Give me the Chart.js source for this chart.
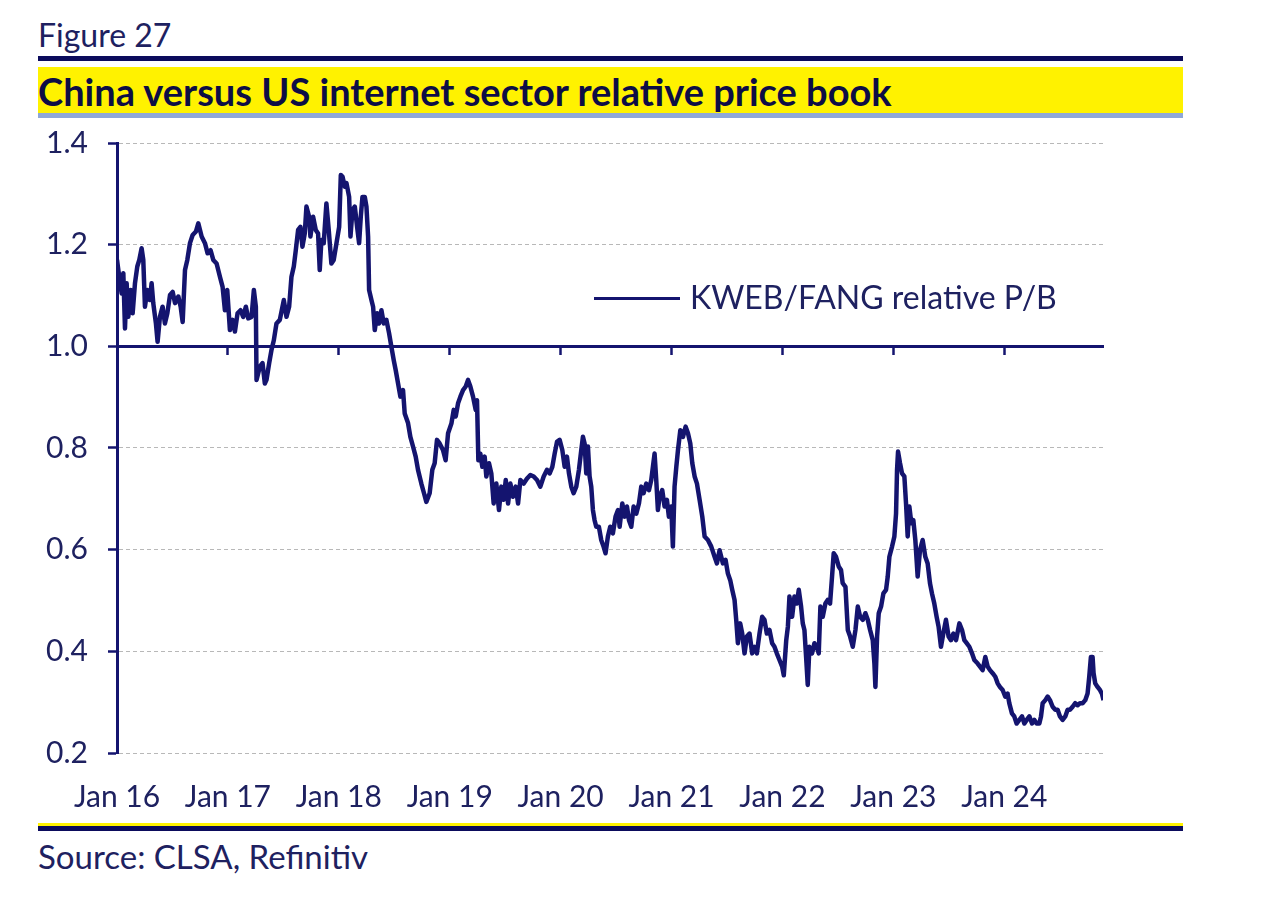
<!DOCTYPE html>
<html>
<head>
<meta charset="utf-8">
<script src="https://cdn.jsdelivr.net/npm/chart.js@4.4.1/dist/chart.umd.min.js"></script>
<style>
  body { margin: 0; background: #fff; width: 1268px; height: 911px; position: relative; overflow: hidden;
         font-family: Lato, "Open Sans", sans-serif; color: #1e2160; }
  .txt { position: absolute; left: 38px; font-size: 32px; line-height: 36px; white-space: nowrap; }
  .bar { position: absolute; left: 38px; width: 1145px; }
  #title { position: absolute; left: 38px; top: 67px; width: 1145px; height: 46px; background: #fff200;
           font-weight: bold; font-size: 38px; line-height: 48px; color: #0d0d45; white-space: nowrap; overflow: hidden; }
  #legend { position: absolute; left: 594px; top: 279px; font-size: 32px; line-height: 36px; white-space: nowrap; }
  #legend span { display: inline-block; width: 86px; height: 3px; background: #14146f; vertical-align: middle; margin-right: 10px; margin-top: -4px; }
  #wrap { position: absolute; left: 0; top: 105px; width: 1268px; height: 715px; }
</style>
</head>
<body>
<div class="txt" style="top:17px">Figure 27</div>
<div class="bar" style="top:56px;height:5px;background:#0b0b5c"></div>
<div id="title">China versus US internet sector relative price book</div>
<div class="bar" style="top:113px;height:5px;background:#8fa8d8"></div>
<div id="wrap"><canvas id="myChart"></canvas></div>
<div id="legend"><span></span>KWEB/FANG relative P/B</div>
<div class="bar" style="top:823px;height:3px;background:#fff200"></div>
<div class="bar" style="top:826px;height:5px;background:#0b0b5c"></div>
<div class="txt" style="top:838px;font-size:33px">Source: CLSA, Refinitiv</div>

<script>
// data (x = decimal year, y = relative P/B)
const dates = [
  2016.000, 2016.012, 2016.042, 2016.057, 2016.072, 2016.087, 2016.102, 2016.123, 2016.141, 2016.162,
  2016.183, 2016.201, 2016.222, 2016.237, 2016.252, 2016.273, 2016.297, 2016.312, 2016.327, 2016.351,
  2016.366, 2016.387, 2016.411, 2016.432, 2016.454, 2016.478, 2016.502, 2016.523, 2016.553, 2016.574,
  2016.592, 2016.613, 2016.634, 2016.658, 2016.682, 2016.712, 2016.733, 2016.763, 2016.793, 2016.817,
  2016.844, 2016.868, 2016.898, 2016.928, 2016.952, 2016.973, 2016.994, 2017.018, 2017.042, 2017.063,
  2017.087, 2017.114, 2017.138, 2017.162, 2017.183, 2017.213, 2017.234, 2017.252, 2017.258, 2017.288,
  2017.312, 2017.333, 2017.348, 2017.372, 2017.393, 2017.414, 2017.438, 2017.468,
  2017.492, 2017.504, 2017.528, 2017.552, 2017.573, 2017.594, 2017.612, 2017.633, 2017.654, 2017.672,
  2017.693, 2017.708, 2017.732, 2017.744, 2017.768, 2017.792, 2017.813, 2017.828, 2017.843, 2017.864,
  2017.888, 2017.909, 2017.933, 2017.954, 2017.979, 2018.003, 2018.018, 2018.033, 2018.054, 2018.069,
  2018.093, 2018.105, 2018.123, 2018.144, 2018.165, 2018.183, 2018.198, 2018.213, 2018.234, 2018.249,
  2018.264, 2018.273, 2018.294, 2018.309, 2018.324, 2018.345, 2018.363, 2018.384, 2018.405, 2018.429,
  2018.453, 2018.474, 2018.495, 2018.513, 2018.534, 2018.555, 2018.579, 2018.594, 2018.624, 2018.645,
  2018.669, 2018.693, 2018.714, 2018.744, 2018.768, 2018.789, 2018.819, 2018.843, 2018.864, 2018.885,
  2018.909, 2018.939, 2018.963, 2018.985,
  2019.015, 2019.036, 2019.054, 2019.075, 2019.096, 2019.120, 2019.144, 2019.165, 2019.186, 2019.210,
  2019.234, 2019.246, 2019.258, 2019.276, 2019.294, 2019.315, 2019.330, 2019.354, 2019.375, 2019.396,
  2019.420, 2019.444, 2019.465, 2019.486, 2019.505, 2019.526, 2019.547, 2019.571, 2019.595, 2019.616,
  2019.637, 2019.667, 2019.697, 2019.727, 2019.757, 2019.787, 2019.817, 2019.847, 2019.877, 2019.901,
  2019.925, 2019.946, 2019.967, 2019.991, 2020.015, 2020.036, 2020.057, 2020.075, 2020.096, 2020.117,
  2020.141, 2020.165, 2020.186, 2020.201, 2020.216, 2020.231, 2020.246, 2020.261, 2020.276, 2020.291,
  2020.306, 2020.321, 2020.345, 2020.366, 2020.387, 2020.405, 2020.426, 2020.447, 2020.471, 2020.495,
  2020.517,
  2020.532, 2020.556, 2020.577, 2020.598, 2020.616, 2020.637, 2020.658, 2020.682, 2020.706, 2020.727,
  2020.748, 2020.772, 2020.796, 2020.817, 2020.832, 2020.847, 2020.862, 2020.877, 2020.892, 2020.916,
  2020.937, 2020.958, 2020.976, 2020.997, 2021.012, 2021.027, 2021.043, 2021.058, 2021.079, 2021.103,
  2021.127, 2021.148, 2021.169, 2021.187, 2021.208, 2021.229, 2021.253, 2021.277, 2021.298, 2021.328,
  2021.358, 2021.388, 2021.409, 2021.433, 2021.463, 2021.487, 2021.508, 2021.529, 2021.547, 2021.568,
  2021.583, 2021.598, 2021.619, 2021.637, 2021.658, 2021.679, 2021.703, 2021.727, 2021.748, 2021.769,
  2021.793, 2021.817, 2021.838, 2021.859, 2021.883, 2021.907, 2021.928, 2021.949, 2021.973, 2021.997,
  2022.012, 2022.034, 2022.049,
  2022.063, 2022.087, 2022.108, 2022.129, 2022.147, 2022.168, 2022.183, 2022.198, 2022.213, 2022.228,
  2022.243, 2022.267, 2022.288, 2022.309, 2022.327, 2022.342, 2022.363, 2022.387, 2022.408, 2022.429,
  2022.447, 2022.462, 2022.483, 2022.507, 2022.528, 2022.543, 2022.568, 2022.589, 2022.610, 2022.634,
  2022.658, 2022.679, 2022.700, 2022.724, 2022.748, 2022.769, 2022.790, 2022.814, 2022.829, 2022.838,
  2022.853, 2022.868, 2022.889, 2022.910, 2022.934, 2022.949, 2022.964, 2022.988, 2023.009, 2023.024,
  2023.033, 2023.042, 2023.060, 2023.078, 2023.099, 2023.114, 2023.129, 2023.144, 2023.162, 2023.180,
  2023.198, 2023.219, 2023.240, 2023.264, 2023.288, 2023.309, 2023.330, 2023.348, 2023.369, 2023.390,
  2023.408, 2023.429, 2023.450, 2023.474, 2023.498, 2023.519, 2023.541, 2023.565,
  2023.595, 2023.619, 2023.640, 2023.661, 2023.685, 2023.709, 2023.730, 2023.760, 2023.781, 2023.805,
  2023.829, 2023.850, 2023.871, 2023.895, 2023.919, 2023.940, 2023.961, 2023.985, 2024.009, 2024.030,
  2024.045, 2024.069, 2024.090, 2024.111, 2024.136, 2024.160, 2024.181, 2024.202, 2024.226, 2024.250,
  2024.271, 2024.292, 2024.316, 2024.331, 2024.346, 2024.370, 2024.391, 2024.412, 2024.436, 2024.460,
  2024.481, 2024.502, 2024.526, 2024.550, 2024.571, 2024.592, 2024.616, 2024.640, 2024.661, 2024.682,
  2024.706, 2024.730, 2024.751, 2024.766, 2024.781, 2024.796, 2024.805, 2024.820, 2024.841, 2024.862,
  2024.880, 2024.895
];

const values = [
  1.170, 1.150, 1.104, 1.144, 1.035, 1.124, 1.058, 1.111, 1.065, 1.124,
  1.157, 1.170, 1.193, 1.170, 1.078, 1.111, 1.091, 1.124, 1.085, 1.045,
  1.009, 1.058, 1.078, 1.045, 1.065, 1.101, 1.107, 1.085, 1.098, 1.078,
  1.048, 1.150, 1.170, 1.203, 1.219, 1.226, 1.242, 1.216, 1.203, 1.183,
  1.189, 1.170, 1.163, 1.137, 1.117, 1.071, 1.111, 1.032, 1.052, 1.029,
  1.065, 1.071, 1.058, 1.078, 1.055, 1.058, 1.111, 1.078, 0.934, 0.960,
  0.967, 0.927, 0.934, 0.967, 0.993, 1.012, 1.045, 1.052,
  1.078, 1.091, 1.058, 1.078, 1.137, 1.157, 1.189, 1.229, 1.235, 1.196,
  1.222, 1.275, 1.255, 1.216, 1.255, 1.229, 1.222, 1.150, 1.209, 1.203,
  1.281, 1.229, 1.163, 1.170, 1.203, 1.235, 1.337, 1.334, 1.314, 1.321,
  1.294, 1.216, 1.268, 1.275, 1.235, 1.203, 1.255, 1.294, 1.294, 1.275,
  1.216, 1.111, 1.091, 1.078, 1.032, 1.065, 1.045, 1.071, 1.045, 1.052,
  1.026, 0.999, 0.973, 0.953, 0.927, 0.901, 0.914, 0.868, 0.849, 0.822,
  0.803, 0.783, 0.757, 0.730, 0.711, 0.694, 0.711, 0.757, 0.770, 0.816,
  0.809, 0.796, 0.776, 0.829,
  0.848, 0.875, 0.862, 0.888, 0.901, 0.914, 0.921, 0.934, 0.921, 0.901,
  0.875, 0.894, 0.776, 0.789, 0.763, 0.783, 0.744, 0.770, 0.750, 0.691,
  0.730, 0.678, 0.724, 0.698, 0.737, 0.691, 0.730, 0.704, 0.724, 0.691,
  0.737, 0.730, 0.740, 0.747, 0.744, 0.737, 0.724, 0.744, 0.757, 0.750,
  0.763, 0.789, 0.812, 0.816, 0.796, 0.763, 0.783, 0.750, 0.724, 0.711,
  0.724, 0.757, 0.796, 0.822, 0.809, 0.750, 0.803, 0.744, 0.724, 0.678,
  0.658, 0.645, 0.645, 0.619, 0.606, 0.593, 0.626, 0.645, 0.632, 0.665,
  0.678,
  0.645, 0.691, 0.665, 0.685, 0.658, 0.645, 0.685, 0.671, 0.691, 0.724,
  0.711, 0.730, 0.717, 0.737, 0.763, 0.789, 0.737, 0.678, 0.704, 0.717,
  0.685, 0.698, 0.665, 0.685, 0.606, 0.724, 0.763, 0.796, 0.835, 0.822,
  0.842, 0.829, 0.809, 0.770, 0.744, 0.730, 0.698, 0.665, 0.626, 0.619,
  0.606, 0.586, 0.573, 0.599, 0.573, 0.580, 0.553, 0.540, 0.521, 0.501,
  0.462, 0.416, 0.455, 0.435, 0.396, 0.429, 0.435, 0.396, 0.409, 0.396,
  0.435, 0.468, 0.462, 0.435, 0.442, 0.416, 0.409, 0.396, 0.383, 0.370,
  0.353, 0.422, 0.449,
  0.508, 0.468, 0.508, 0.494, 0.521, 0.488, 0.455, 0.442, 0.389, 0.334,
  0.409, 0.396, 0.416, 0.409, 0.396, 0.488, 0.468, 0.494, 0.501, 0.494,
  0.547, 0.593, 0.586, 0.567, 0.560, 0.534, 0.527, 0.442, 0.429, 0.409,
  0.442, 0.488, 0.468, 0.462, 0.475, 0.462, 0.442, 0.422, 0.376, 0.330,
  0.429, 0.475, 0.488, 0.514, 0.521, 0.547, 0.586, 0.606, 0.626, 0.671,
  0.757, 0.793, 0.770, 0.750, 0.744, 0.691, 0.626, 0.685, 0.652, 0.658,
  0.619, 0.547, 0.599, 0.619, 0.586, 0.573, 0.534, 0.514, 0.494, 0.468,
  0.448, 0.409, 0.435, 0.462, 0.429, 0.422, 0.435, 0.422,
  0.455, 0.442, 0.422, 0.416, 0.409, 0.396, 0.383, 0.376, 0.370, 0.363,
  0.389, 0.370, 0.363, 0.357, 0.350, 0.337, 0.330, 0.324, 0.311, 0.317,
  0.298, 0.278, 0.272, 0.258, 0.265, 0.272, 0.258, 0.265, 0.272, 0.258,
  0.265, 0.258, 0.258, 0.272, 0.298, 0.304, 0.311, 0.304, 0.291, 0.285,
  0.285, 0.272, 0.265, 0.272, 0.285, 0.285, 0.291, 0.298, 0.294, 0.298,
  0.298, 0.304, 0.317, 0.350, 0.389, 0.389, 0.357, 0.337, 0.330, 0.324,
  0.317, 0.304
];

const yearTicks = [2016, 2017, 2018, 2019, 2020, 2021, 2022, 2023, 2024];

const navy = '#14146f';
const textColor = '#1e2160';

// keep only the January ticks
const keepYears = scale => {
  scale.ticks = yearTicks.map(v => ({ value: v }));
};

let gdata = {
  datasets: [
    {
      label: 'KWEB/FANG relative P/B',
      data: dates.map((d, i) => ({ x: d, y: values[i] })),
      borderColor: navy,
      borderWidth: 4.5,
      pointRadius: 0,
      tension: 0,
      borderJoinStyle: 'round',
      xAxisID: 'x',
    },
  ],
};

let config = {
  type: 'line',
  data: gdata,
  options: {
    responsive: true,
    maintainAspectRatio: false,
    animation: false,
    layout: { padding: { top: 23, right: 165, bottom: 0, left: 0 } },
    plugins: {
      legend: { display: false },
      tooltip: { enabled: false },
    },
    scales: {
      x: {
        type: 'linear',
        position: 'bottom',
        min: 2016,
        max: 2024.89,
        afterBuildTicks: keepYears,
        afterFit: s => { s.height = 67; },
        grid: { display: false },
        border: { display: false },
        ticks: {
          padding: 18,
          color: textColor,
          autoSkip: false,
          maxRotation: 0,
          font: { family: 'Lato', size: 30 },
          callback: v => 'Jan ' + String(v).slice(2),
        },
      },
      x2: {
        type: 'linear',
        axis: 'x',
        position: { y: 1 },
        min: 2016,
        max: 2024.89,
        afterBuildTicks: keepYears,
        grid: { drawOnChartArea: false, tickLength: 7, tickWidth: 2.5, tickColor: navy, color: navy },
        border: { color: navy, width: 3 },
        ticks: { display: false },
      },
      y: {
        min: 0.2,
        max: 1.4,
        afterFit: s => { s.width = 117; },
        ticks: {
          stepSize: 0.2,
          padding: 20,
          color: textColor,
          font: { family: 'Lato', size: 30 },
          callback: v => v.toFixed(1),
        },
        grid: { color: '#b8b8b8', lineWidth: 1, tickLength: 9, tickColor: navy, tickWidth: 2.5, tickBorderDash: [] },
        border: { color: navy, width: 3, dash: [4, 3] },
      },
    },
  },
};

let myChart = new Chart(document.getElementById('myChart'), config);
</script>
</body>
</html>
